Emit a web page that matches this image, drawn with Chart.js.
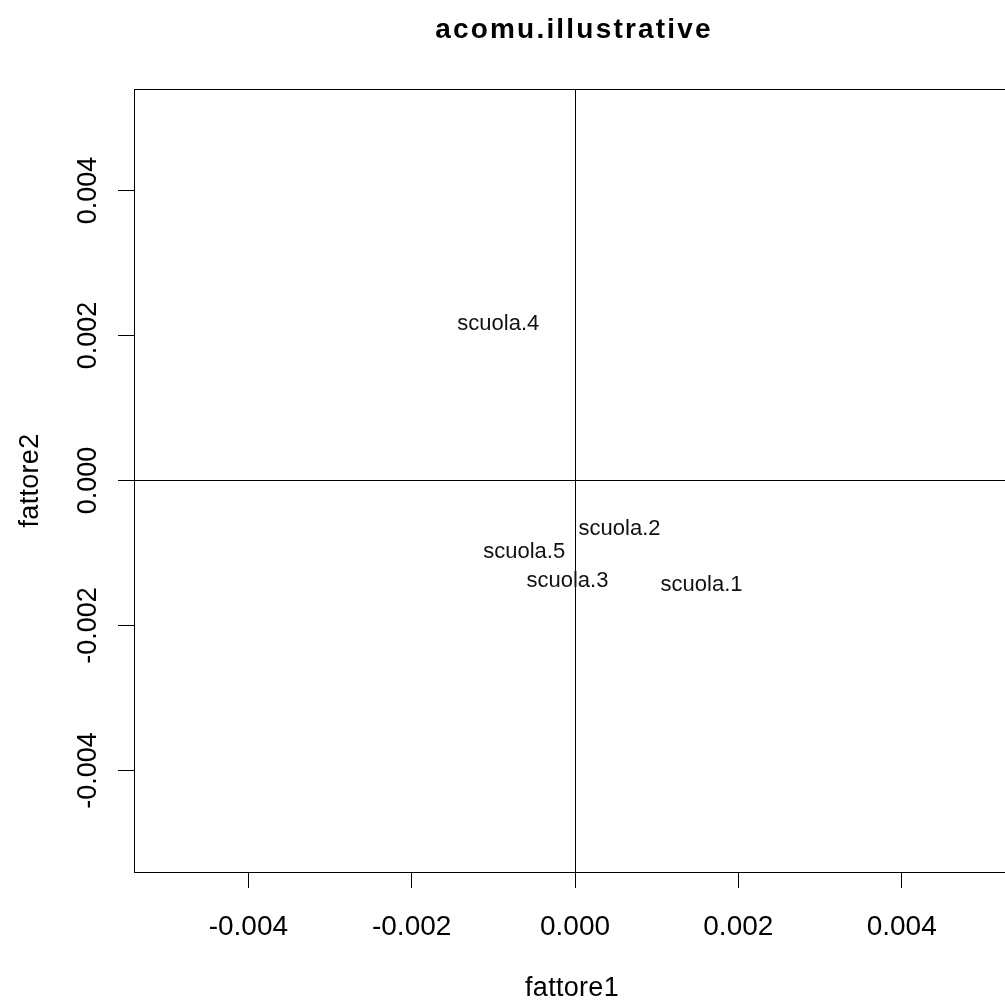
<!DOCTYPE html>
<html>
<head>
<meta charset="utf-8">
<title>acomu.illustrative</title>
<script src="https://cdn.jsdelivr.net/npm/chart.js@4"></script>
<style>
  html, body { margin: 0; padding: 0; background: #fff; overflow: hidden; }
  #wrap { width: 1016px; height: 1003px; }
</style>
</head>
<body>
<div id="wrap"><canvas id="plot" width="1016" height="1003"></canvas></div>
<script>
// illustrative rows projected on the first two factors
const schools = ["scuola.1", "scuola.2", "scuola.3", "scuola.4", "scuola.5"];
const fattore1 = [0.00155, 0.000545, -0.000092, -0.000939, -0.000622];
const fattore2 = [-0.001428, -0.000659, -0.001372, 0.002168, -0.000968];
const tickValues = [-0.004, -0.002, 0, 0.002, 0.004];
const axisLimit = 0.0054;

const FONT = "'Liberation Sans', Arial, sans-serif";

const points = schools.map((s, i) => ({ x: fattore1[i], y: fattore2[i], label: s }));

// R-style decorations: frame, title, axis titles and the text labels
const decor = {
  id: "decor",
  afterDraw(chart) {
    const ctx = chart.ctx;
    const area = chart.chartArea;
    const xs = chart.scales.x;
    const ys = chart.scales.y;
    ctx.save();
    ctx.strokeStyle = "#000";
    ctx.lineWidth = 1;
    ctx.strokeRect(Math.round(area.left) + 0.5, Math.round(area.top) + 0.5,
      Math.round(area.right - area.left), Math.round(area.bottom - area.top));

    ctx.fillStyle = "#000";
    ctx.textAlign = "center";
    ctx.textBaseline = "alphabetic";
    const cx = (area.left + area.right) / 2;

    ctx.font = "bold 28px " + FONT;
    ctx.letterSpacing = "2.2px";
    ctx.fillText("acomu.illustrative", cx - 1, 38);

    ctx.font = "27px " + FONT;
    ctx.letterSpacing = "0.3px";
    ctx.fillText("fattore1", cx - 3, 996);

    ctx.save();
    ctx.translate(38, (area.top + area.bottom) / 2);
    ctx.rotate(-Math.PI / 2);
    ctx.fillText("fattore2", 0, 0);
    ctx.restore();

    ctx.font = "22px " + FONT;
    ctx.letterSpacing = "0px";
    ctx.fillStyle = "#111";
    points.forEach(p => {
      ctx.fillText(p.label, xs.getPixelForValue(p.x), ys.getPixelForValue(p.y) + 7);
    });
    ctx.restore();
  }
};

function zeroLine(c) {
  return c.tick && c.tick.value === 0 ? "#000" : "rgba(0,0,0,0)";
}

new Chart(document.getElementById("plot"), {
  type: "scatter",
  data: {
    datasets: [{
      data: points,
      pointRadius: 0,
      pointHoverRadius: 0
    }]
  },
  options: {
    responsive: false,
    animation: false,
    events: [],
    layout: { padding: { top: 89, left: 0, right: 0, bottom: 0 } },
    plugins: { legend: { display: false }, tooltip: { enabled: false } },
    scales: {
      x: {
        type: "linear",
        min: -axisLimit,
        max: axisLimit,
        afterBuildTicks: s => { s.ticks = tickValues.map(v => ({ value: v })); },
        afterFit: s => { s.height = 131; },
        border: { display: true, color: "#000", width: 1 },
        grid: { color: zeroLine, tickColor: "#000", lineWidth: 1, tickLength: 16 },
        ticks: {
          color: "#000",
          font: { family: FONT, size: 28 },
          padding: 22,
          maxRotation: 0,
          minRotation: 0,
          callback: v => v.toFixed(3)
        }
      },
      y: {
        type: "linear",
        min: -axisLimit,
        max: axisLimit,
        afterBuildTicks: s => { s.ticks = tickValues.map(v => ({ value: v })); },
        afterFit: s => { s.width = 134; },
        border: { display: true, color: "#000", width: 1 },
        grid: { color: zeroLine, tickColor: "#000", lineWidth: 1, tickLength: 16 },
        ticks: {
          color: "#000",
          font: { family: FONT, size: 27 },
          padding: -9,
          minRotation: 90,
          maxRotation: 90,
          crossAlign: "center",
          callback: v => v.toFixed(3)
        }
      }
    }
  },
  plugins: [decor]
});
</script>
</body>
</html>
